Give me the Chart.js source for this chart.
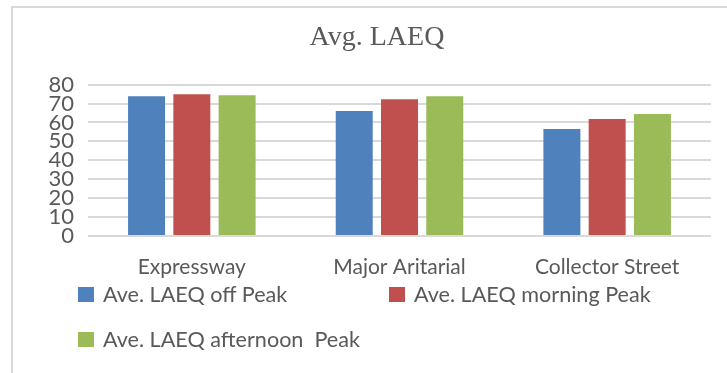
<!DOCTYPE html>
<html>
<head>
<meta charset="utf-8">
<script src="https://cdn.jsdelivr.net/npm/chart.js@4"></script>
<style>
    html, body { margin: 0; padding: 0; background: #fff; overflow: hidden; }
    #wrap { position: relative; width: 727px; height: 373px; }
    #frame { position: absolute; left: 11px; top: 6px; width: 800px; height: 400px;
             border-top: 2px solid #d9d9d9; border-left: 2px solid #d9d9d9; }
    #chart { position: absolute; left: 0; top: 0; }
    .legend-item { position: absolute; font-family: 'Lato', sans-serif; font-size: 21.6px;
                   color: #595959; white-space: pre; line-height: 1; }
    .legend-item span.box { position: absolute; left: 0; top: 0; width: 16px; height: 15px; }
    .legend-item span.txt { position: absolute; left: 25px; top: -3px; }
</style>
</head>
<body>
<div id="wrap">
    <div id="frame"></div>
    <canvas id="chart" width="727" height="373"></canvas>
    <div id="legend"></div>
</div>
<script>
const categories = ['Expressway', 'Major Aritarial', 'Collector Street'];
const seriesNames = ['Ave. LAEQ off Peak', 'Ave. LAEQ morning Peak', 'Ave. LAEQ afternoon  Peak'];
const offPeak = [73.9, 66.0, 56.5];
const morningPeak = [74.9, 72.3, 61.8];
const afternoonPeak = [74.4, 73.9, 64.4];
const yTicks = [0, 10, 20, 30, 40, 50, 60, 70, 80];

const colors = ['#4F81BD', '#C0504D', '#9BBB59'];
const textColor = '#595959';
const gridColor = '#d9d9d9';

// legend slots (box top-left), laid out like the original two-column legend
const legendSlots = [[78, 287], [389, 287], [78, 332]];

const ctx = document.getElementById('chart').getContext('2d');

const chart = new Chart(ctx, {
    type: 'bar',
    data: {
        labels: categories,
        datasets: [offPeak, morningPeak, afternoonPeak].map((d, i) => ({
            label: seriesNames[i],
            data: d,
            backgroundColor: colors[i],
            borderWidth: 0,
            categoryPercentage: 0.654,
            barPercentage: 0.817
        }))
    },
    options: {
        responsive: false,
        animation: false,
        devicePixelRatio: 1,
        layout: { padding: { left: 43, right: 16, top: 5, bottom: 93 } },
        plugins: {
            legend: { display: false },
            tooltip: { enabled: false },
            title: {
                display: true,
                text: 'Avg. LAEQ',
                color: textColor,
                font: { family: "'Liberation Serif', serif", size: 28, weight: 'normal', lineHeight: 1.2 },
                padding: { top: 16, bottom: 30 }
            }
        },
        scales: {
            x: {
                grid: { display: false, drawTicks: false },
                border: { display: false },
                ticks: {
                    color: textColor,
                    padding: 19,
                    font: { family: "'Lato', sans-serif", size: 21, lineHeight: 1.2 }
                },
                afterFit: s => { s.height = 44; }
            },
            y: {
                min: yTicks[0],
                max: yTicks[yTicks.length - 1],
                afterBuildTicks: s => { s.ticks = yTicks.map(v => ({ value: v })); },
                grid: { color: gridColor, lineWidth: 2, drawTicks: false },
                border: { display: false },
                ticks: {
                    color: textColor,
                    padding: 14,
                    autoSkip: false,
                    font: { family: "'Lato', sans-serif", size: 22, lineHeight: 1 }
                },
                afterFit: s => { s.width = 45; }
            }
        }
    }
});

// html legend built from the chart's datasets
const legendEl = document.getElementById('legend');
chart.data.datasets.forEach((ds, i) => {
    const item = document.createElement('div');
    item.className = 'legend-item';
    item.style.left = legendSlots[i][0] + 'px';
    item.style.top = legendSlots[i][1] + 'px';
    item.innerHTML = `<span class="box" style="background:${ds.backgroundColor}"></span><span class="txt">${ds.label}</span>`;
    legendEl.appendChild(item);
});
</script>
</body>
</html>
